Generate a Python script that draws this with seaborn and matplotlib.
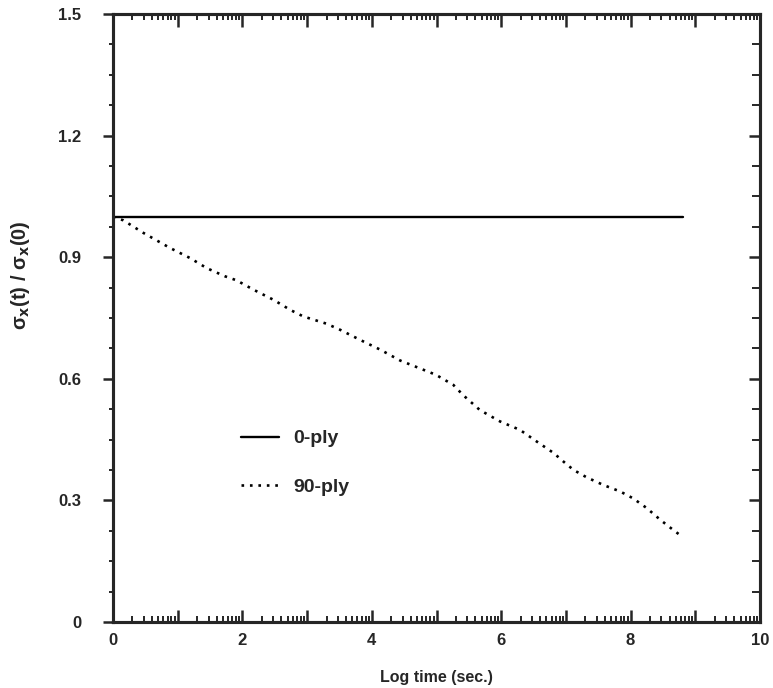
import numpy as np
import pandas as pd
import matplotlib
matplotlib.use("Agg")
import matplotlib.pyplot as plt
import seaborn as sns
from matplotlib.ticker import FixedLocator

# ---- data ----
ply0_x = [0.0, 8.81]
ply0_y = [1.0, 1.0]

ply90_x = [0.0, 0.16, 0.47, 0.88, 1.19, 1.45, 1.73, 1.91, 2.17, 2.48, 2.74, 2.94,
           3.30, 3.51, 3.82, 4.13, 4.44, 4.74, 4.99, 5.26, 5.41, 5.67, 5.98, 6.29,
           6.57, 6.81, 6.99, 7.12, 7.32, 7.58, 7.84, 8.04, 8.25, 8.46, 8.66, 8.81]
ply90_y = [1.0, 0.991, 0.960, 0.923, 0.898, 0.873, 0.853, 0.843, 0.820, 0.795, 0.770, 0.754,
           0.736, 0.721, 0.696, 0.672, 0.645, 0.626, 0.610, 0.585, 0.560, 0.523, 0.495, 0.474,
           0.443, 0.417, 0.392, 0.375, 0.357, 0.338, 0.322, 0.305, 0.281, 0.252, 0.227, 0.209]

x_ticks = [0, 1, 2, 3, 4, 5, 6, 7, 8, 9, 10]
x_ticklabels = ["0", "", "2", "", "4", "", "6", "", "8", "", "10"]
y_ticks = [0, 0.3, 0.6, 0.9, 1.2, 1.5]
y_ticklabels = ["0", "0.3", "0.6", "0.9", "1.2", "1.5"]
labels = ["0-ply", "90-ply"]

sns.set_style("ticks")
plt.rcParams["font.family"] = ["Liberation Sans", "DejaVu Sans"]
plt.rcParams["mathtext.default"] = "bf"

fig = plt.figure(figsize=(7.73, 6.88), dpi=100)
ax = fig.add_axes([0.1462, 0.0959, 0.837, 0.8837])

df0 = pd.DataFrame({"x": ply0_x, "y": ply0_y})
df90 = pd.DataFrame({"x": ply90_x, "y": ply90_y})
sns.lineplot(data=df0, x="x", y="y", ax=ax, color="black", lw=1.7, label=labels[0])
sns.lineplot(data=df90, x="x", y="y", ax=ax, color="black", lw=1.9,
             linestyle=(0, (1, 2.2)), label=labels[1])

ax.set_xlim(0, 10)
ax.set_ylim(0, 1.5)

for s in ax.spines.values():
    s.set_visible(True)
    s.set_linewidth(2.2)
    s.set_color("black")

ax.set_xticks(x_ticks)
ax.set_xticklabels(x_ticklabels, fontsize=12, fontweight="bold")
ax.set_yticks(y_ticks)
ax.set_yticklabels(y_ticklabels, fontsize=12, fontweight="bold")

# log-style minor ticks within each unit along x
minor_x = [k + np.log10(m) for k in range(10) for m in range(2, 10)]
ax.xaxis.set_minor_locator(FixedLocator(minor_x))
ax.yaxis.set_minor_locator(FixedLocator(np.arange(0, 1.5001, 0.075)))

ax.tick_params(axis="x", which="major", direction="in", top=True, bottom=True,
               length=9, width=1.8, pad=8)
ax.tick_params(axis="x", which="minor", direction="in", top=True, bottom=True,
               length=4, width=1.4)
ax.tick_params(axis="y", which="major", direction="out", left=True, right=False,
               length=7, width=1.8, pad=16)
ax.tick_params(axis="y", which="minor", direction="out", left=True, right=False,
               length=3, width=1.4)

# right side inward ticks via twin axis
axr = ax.twinx()
axr.set_ylim(0, 1.5)
axr.set_yticks(y_ticks)
axr.yaxis.set_minor_locator(FixedLocator(np.arange(0, 1.5001, 0.075)))
axr.tick_params(axis="y", which="major", direction="in", length=8, width=1.8,
                labelright=False)
axr.tick_params(axis="y", which="minor", direction="in", length=6, width=1.4)
for s in axr.spines.values():
    s.set_linewidth(2.2)

ax.set_xlabel("Log time (sec.)", fontsize=11.5, fontweight="bold", labelpad=16)
ax.set_ylabel(r"σ$_x$(t) / σ$_x$(0)", fontsize=14.5, fontweight="bold")
ax.yaxis.set_label_coords(-0.125, 0.57)

leg = ax.legend(loc="upper left", bbox_to_anchor=(0.17, 0.345), frameon=False,
                handlelength=2.0, handletextpad=0.7, labelspacing=1.6,
                prop={"size": 14, "weight": "bold"})

fig.savefig("out.png", dpi=100)
